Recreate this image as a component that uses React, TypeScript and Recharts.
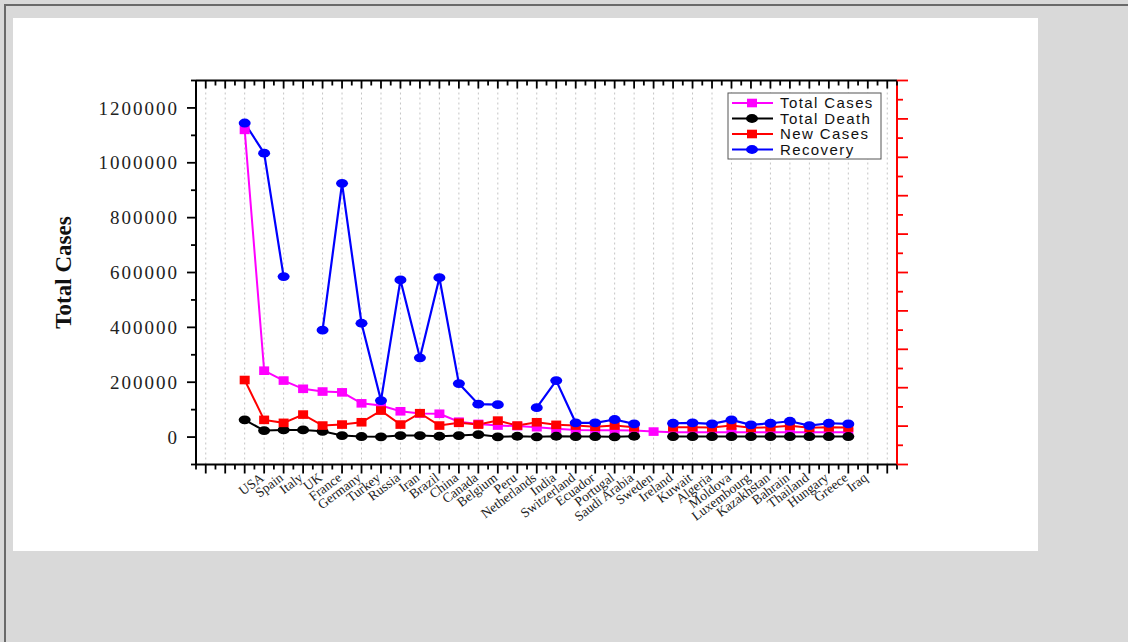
import { LineChart, Line, XAxis, YAxis, ReferenceLine, Legend, Label } from 'recharts';

const countries = [
  'USA', 'Spain', 'Italy', 'UK', 'France', 'Germany', 'Turkey', 'Russia', 'Iran', 'Brazil',
  'China', 'Canada', 'Belgium', 'Peru', 'Netherlands', 'India', 'Switzerland', 'Ecuador',
  'Portugal', 'Saudi Arabia', 'Sweden', 'Ireland', 'Kuwait', 'Algeria', 'Moldova', 'Luxembourg',
  'Kazakhstan', 'Bahrain', 'Thailand', 'Hungary', 'Greece', 'Iraq',
];

const totalCases = [
  1120000, 242000, 206000, 176000, 166000, 163000, 123000, 115000, 94000, 86000,
  85000, 56000, 48000, 42000, 40000, 36000, 30000, 26000,
  25000, 25000, 24000, 20000, 18000, 18000, 18000, 18000,
  18000, 18000, 18000, 18000, 18000, 18000,
];

const totalDeath = [
  62700, 23700, 26000, 26000, 21000, 5500, 2000, 1000, 5500, 5500,
  3000, 5500, 9000, 1000, 3000, 1000, 3000, 2000,
  2000, 1000, 3000, null, 2000, 2000, 2000, 2000,
  2000, 2000, 2000, 2000, 2000, 2000,
];

const newCases = [
  208000, 62700, 51800, 82000, 42000, 45600, 54000, 96600, 45600, 87000,
  42000, 52000, 45600, 60000, 42000, 54000, 44500, 42000,
  38000, 42000, 36000, null, 35700, 35700, 35000, 42000,
  34000, 36000, 41000, 34000, 35700, 35000,
];

const recovery = [
  1145000, 1035000, 585000, null, 390000, 925000, 415000, 133000, 573000, 289000,
  581000, 195000, 120000, 118000, null, 107000, 206000, 52000,
  52000, 64000, 48000, null, 50300, 51800, 48000, 62700,
  44500, 50300, 57600, 42000, 50300, 48000,
];

const rows = countries.map((country, idx) => ({
  idx,
  country,
  totalCases: totalCases[idx],
  totalDeath: totalDeath[idx],
  newCases: newCases[idx],
  recovery: recovery[idx],
}));

// half-category ticks across the padded x range
const xTicks = Array.from({ length: 73 }, (_, i) => -2.5 + i * 0.5);
const gridX = Array.from({ length: 36 }, (_, i) => i - 2);
const yTicks = Array.from({ length: 15 }, (_, i) => -100000 + i * 100000);
const rightTicks = Array.from({ length: 21 }, (_, i) => i);

const serif = '"Liberation Serif", "Times New Roman", serif';
const sans = '"Liberation Sans", Arial, sans-serif';

const MAGENTA = '#ff00ff';
const RED = '#ff0000';
const BLUE = '#0000ff';
const BLACK = '#000000';

const series = [
  { key: 'totalCases', name: 'Total Cases', color: MAGENTA, shape: 'square' },
  { key: 'totalDeath', name: 'Total Death', color: BLACK, shape: 'circle' },
  { key: 'newCases', name: 'New Cases', color: RED, shape: 'square' },
  { key: 'recovery', name: 'Recovery', color: BLUE, shape: 'circle' },
];

function marker(shape: string, color: string, cx: number, cy: number, key?: string) {
  if (shape === 'square') {
    return <rect key={key} x={cx - 5} y={cy - 4.3} width={10} height={8.6} fill={color} />;
  }
  return <ellipse key={key} cx={cx} cy={cy} rx={6} ry={4.4} fill={color} />;
}

function makeDot(shape: string, color: string) {
  return (p: any) => {
    const key = `${color}-${p.index}`;
    if (p.cx == null || p.cy == null || p.value == null) return <g key={key} />;
    return marker(shape, color, p.cx, p.cy, key);
  };
}

function BottomTick({ x, y, payload }: any) {
  const v = payload.value;
  const major = Number.isInteger(v);
  const label = major && v >= 0 && v < countries.length ? countries[v] : null;
  const ax = x + 20;
  const ay = y + 15;
  return (
    <g>
      <line x1={x} x2={x} y1={y} y2={y + (major ? 9 : 5)} stroke="#000" strokeWidth={1.8} />
      {label && (
        <text
          x={ax}
          y={ay}
          transform={`rotate(-37 ${ax} ${ay})`}
          textAnchor="end"
          fontFamily={serif}
          fontSize={13.5}
          fill="#222"
        >
          {label}
        </text>
      )}
    </g>
  );
}

function TopTick({ x, y, payload }: any) {
  const major = Number.isInteger(payload.value);
  return <line x1={x} x2={x} y1={y} y2={y + (major ? 8 : 5)} stroke="#000" strokeWidth={1.8} />;
}

function LeftTick({ x, y, payload }: any) {
  const v = payload.value;
  const major = v % 200000 === 0;
  return (
    <g>
      <line x1={x} x2={x - (major ? 9 : 5)} y1={y} y2={y} stroke="#000" strokeWidth={1.8} />
      {major && v >= 0 && (
        <text
          x={x - 17}
          y={y}
          dy="0.35em"
          textAnchor="end"
          fontFamily={serif}
          fontSize={19}
          letterSpacing={2}
          fill="#222"
        >
          {v}
        </text>
      )}
    </g>
  );
}

function RightTick({ x, y, payload }: any) {
  const major = payload.value % 2 === 0;
  return <line x1={x} x2={x + (major ? 11 : 6)} y1={y} y2={y} stroke={RED} strokeWidth={1.8} />;
}

function LegendBox() {
  return (
    <svg width={156} height={68}>
      <rect x={1} y={1} width={153} height={66} fill="#fff" stroke="#555" strokeWidth={1} />
      {series.map((s, i) => {
        const cy = 11 + i * 15.5;
        return (
          <g key={s.key}>
            <line x1={5} x2={46} y1={cy} y2={cy} stroke={s.color} strokeWidth={2} />
            {marker(s.shape, s.color, 25, cy)}
            <text
              x={53}
              y={cy}
              dy="0.36em"
              fontFamily={sans}
              fontSize={15}
              letterSpacing={1.4}
              fill="#111"
            >
              {s.name}
            </text>
          </g>
        );
      })}
    </svg>
  );
}

export default function App() {
  return (
    <div
      style={{
        position: 'fixed',
        left: 0,
        top: 0,
        width: 1128,
        height: 642,
        background: '#d9d9d9',
        overflow: 'hidden',
      }}
    >
      <div
        style={{
          position: 'absolute',
          left: 4,
          top: 4,
          right: 0,
          bottom: 0,
          borderTop: '2px solid #6a6a6a',
          borderLeft: '2px solid #6a6a6a',
        }}
      />
      <div
        style={{ position: 'absolute', left: 13, top: 18, width: 1025, height: 533, background: '#fff' }}
      />
      <div style={{ position: 'absolute', left: 0, top: 0 }}>
        <LineChart
          width={1128}
          height={642}
          data={rows}
          margin={{ top: 70, right: 0, bottom: 0, left: 0 }}
        >
          <XAxis
            xAxisId="bottom"
            dataKey="idx"
            type="number"
            domain={[-2.5, 33.5]}
            ticks={xTicks}
            interval={0}
            tick={BottomTick}
            tickLine={false}
            tickSize={0}
            tickMargin={0}
            axisLine={{ stroke: '#000', strokeWidth: 2 }}
            height={177.5}
          />
          <XAxis
            xAxisId="top"
            orientation="top"
            dataKey="idx"
            type="number"
            domain={[-2.5, 33.5]}
            ticks={xTicks}
            interval={0}
            tick={TopTick}
            tickLine={false}
            tickSize={0}
            tickMargin={0}
            axisLine={{ stroke: '#000', strokeWidth: 2 }}
            height={10.5}
          />
          <YAxis
            yAxisId="left"
            type="number"
            domain={[-100000, 1300000]}
            ticks={yTicks}
            interval={0}
            tick={LeftTick}
            tickLine={false}
            tickSize={0}
            tickMargin={0}
            axisLine={{ stroke: '#000', strokeWidth: 2 }}
            width={196}
          >
            <Label
              content={({ viewBox }: any) => {
                const cx = 63;
                const cy = viewBox.y + viewBox.height / 2;
                return (
                  <text
                    x={cx}
                    y={cy}
                    transform={`rotate(-90 ${cx} ${cy})`}
                    textAnchor="middle"
                    dy="0.35em"
                    fontFamily={serif}
                    fontWeight="bold"
                    fontSize={23}
                    fill="#111"
                  >
                    Total Cases
                  </text>
                );
              }}
            />
          </YAxis>
          <YAxis
            yAxisId="right"
            orientation="right"
            type="number"
            domain={[0, 20]}
            allowDataOverflow
            ticks={rightTicks}
            interval={0}
            tick={RightTick}
            tickLine={false}
            tickSize={0}
            tickMargin={0}
            axisLine={{ stroke: RED, strokeWidth: 2 }}
            width={231}
          />
          {gridX.map((gx) => (
            <ReferenceLine
              key={gx}
              xAxisId="bottom"
              yAxisId="left"
              x={gx}
              stroke="#c4c4c4"
              strokeWidth={1}
              strokeDasharray="2 3"
            />
          ))}
          <Legend
            layout="vertical"
            align="center"
            verticalAlign="middle"
            content={() => <LegendBox />}
            wrapperStyle={{ position: 'absolute', left: 727, top: 92, width: 156, height: 68 }}
          />
          {series.map((s) => (
            <Line
              key={s.key}
              xAxisId="bottom"
              yAxisId="left"
              dataKey={s.key}
              name={s.name}
              stroke={s.color}
              strokeWidth={s.key === 'recovery' ? 2.2 : 2}
              dot={makeDot(s.shape, s.color)}
              activeDot={false}
              isAnimationActive={false}
            />
          ))}
        </LineChart>
      </div>
    </div>
  );
}
